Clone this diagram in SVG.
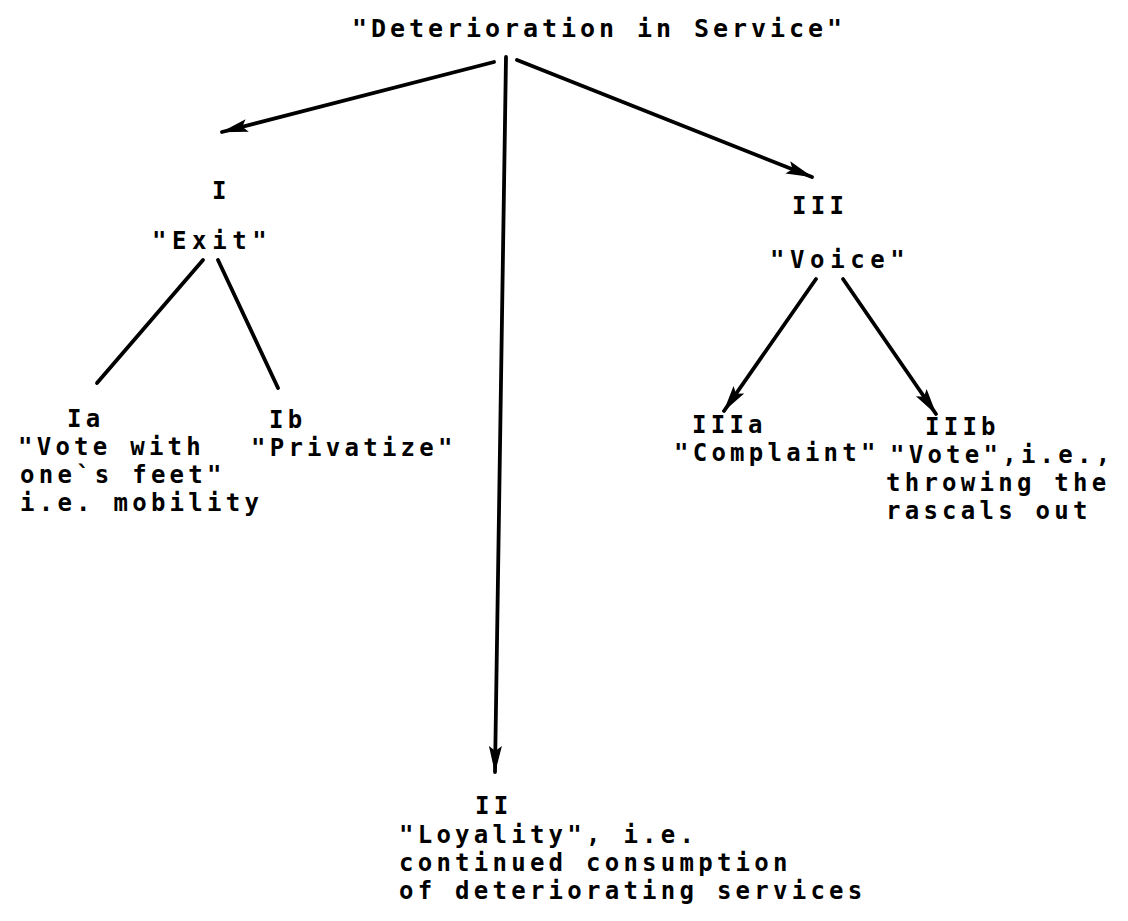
<svg xmlns="http://www.w3.org/2000/svg" width="1128" height="921" viewBox="0 0 1128 921">
<defs>
<style>
text{font-family:"DejaVu Sans Mono","Liberation Mono",monospace;font-weight:bold;font-size:24px;letter-spacing:4.25px;fill:#000;}
.wide{letter-spacing:5.6px;}
.title{font-size:25px;letter-spacing:3.95px;}
.ln{stroke:#000;stroke-width:3.8;fill:none;stroke-linecap:round;}
</style>
<marker id="ah" markerUnits="userSpaceOnUse" markerWidth="28" markerHeight="16" refX="26" refY="8" orient="auto">
<path d="M0,1.5 L27,8 L0,14.5 L5,8 z" fill="#000"/>
</marker>
</defs>
<rect width="1128" height="921" fill="#fff"/>
<g id="connectors">
<line class="ln" x1="494" y1="62" x2="222" y2="132" marker-end="url(#ah)"/>
<line class="ln" x1="506" y1="57" x2="495" y2="772" marker-end="url(#ah)"/>
<line class="ln" x1="517" y1="60" x2="812" y2="177" marker-end="url(#ah)"/>
<line class="ln" x1="203" y1="260" x2="97" y2="383"/>
<line class="ln" x1="218" y1="260" x2="278" y2="388"/>
<line class="ln" x1="816" y1="279" x2="724" y2="411" marker-end="url(#ah)"/>
<line class="ln" x1="843" y1="279" x2="936" y2="414" marker-end="url(#ah)"/>
</g>
<g id="root"><text class="title" x="352" y="37">"Deterioration in Service"</text></g>
<g id="exit"><text x="212" y="199">I</text><text class="wide" x="152" y="249">"Exit"</text></g>
<g id="voice"><text x="792" y="214">III</text><text class="wide" x="770" y="268">"Voice"</text></g>
<g id="ia"><text x="67" y="427">Ia</text><text x="18" y="455">"Vote with</text><text x="20" y="483">one`s feet"</text><text x="20" y="511">i.e. mobility</text></g>
<g id="ib"><text x="269" y="428">Ib</text><text x="251" y="456">"Privatize"</text></g>
<g id="iiia"><text x="692" y="433">IIIa</text><text x="674" y="461">"Complaint"</text></g>
<g id="iiib"><text x="925" y="435">IIIb</text><text x="890" y="463">"Vote",i.e.,</text><text x="886" y="491">throwing the</text><text x="886" y="519">rascals out</text></g>
<g id="loyalty"><text x="475" y="814">II</text><text x="399" y="843">"Loyality", i.e.</text><text x="399" y="871">continued consumption</text><text x="399" y="899">of deteriorating services</text></g>
</svg>
